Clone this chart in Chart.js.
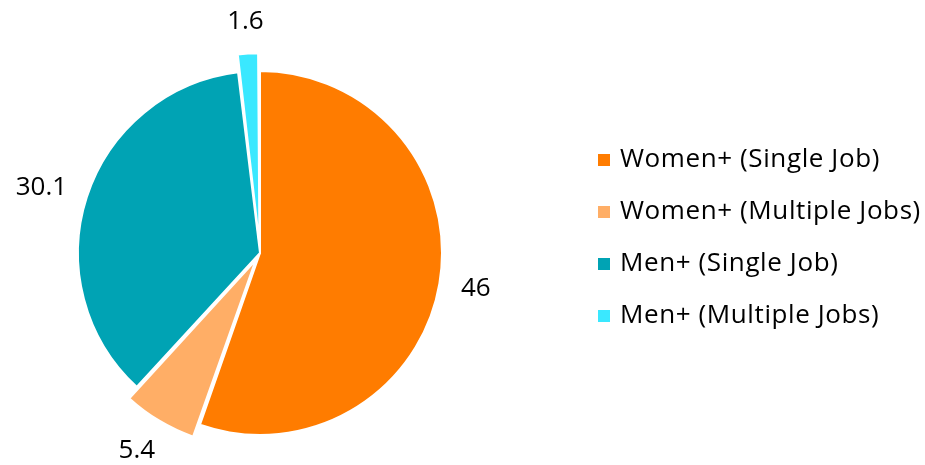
<!DOCTYPE html>
<html>
<head>
<meta charset="utf-8">
<script src="https://cdn.jsdelivr.net/npm/chart.js@4.4.0/dist/chart.umd.min.js"></script>
<style>
    html, body { margin: 0; padding: 0; background: #ffffff; }
    #wrap { width: 925px; height: 465px; }
</style>
</head>
<body>
<div id="wrap"><canvas id="jobsChart" width="925" height="465"></canvas></div>
<script>
var categories = [
    "Women+ (Single Job)",
    "Women+ (Multiple Jobs)",
    "Men+ (Single Job)",
    "Men+ (Multiple Jobs)"
];
var shares = [46, 5.4, 30.1, 1.6];
var sliceColors = ["#FF7C00", "#FFAE66", "#00A3B4", "#3AE8FF"];
// how far each slice is pulled out, in px
var explode = [0, 17, 0, 19];

var FONT = "'Open Sans', 'Liberation Sans', Arial, sans-serif";
var FONT_SIZE = 26;

// value labels outside each slice, pushed away along the slice middle
var outsideLabels = {
    id: "outsideLabels",
    afterDatasetsDraw: function (chart) {
        var ctx = chart.ctx;
        var meta = chart.getDatasetMeta(0);
        ctx.save();
        ctx.font = FONT_SIZE + "px " + FONT;
        ctx.fillStyle = "#000000";
        ctx.textAlign = "center";
        ctx.textBaseline = "middle";
        for (var i = 0; i < meta.data.length; i++) {
            var arc = meta.data[i];
            var mid = (arc.startAngle + arc.endAngle) / 2;
            var dx = Math.cos(mid);
            var dy = Math.sin(mid);
            var d = arc.outerRadius + explode[i] + 22;
            var txt = String(shares[i]);
            var w = ctx.measureText(txt).width;
            var h = FONT_SIZE * 0.7;
            var x = arc.x + dx * d + dx * w / 2;
            var y = arc.y + dy * d + dy * h / 2;
            ctx.fillText(txt, x, y);
        }
        ctx.restore();
    }
};

// legend on the right, square markers
var sideLegend = {
    id: "sideLegend",
    afterDraw: function (chart) {
        var ctx = chart.ctx;
        var x0 = 598;
        var y0 = 160;
        var step = 52;
        ctx.save();
        ctx.font = FONT_SIZE + "px " + FONT;
        ctx.letterSpacing = "0.6px";
        ctx.textAlign = "left";
        ctx.textBaseline = "middle";
        for (var i = 0; i < categories.length; i++) {
            var y = y0 + i * step;
            ctx.fillStyle = sliceColors[i];
            ctx.fillRect(x0, y - 6, 12, 12);
            ctx.fillStyle = "#000000";
            ctx.fillText(categories[i], x0 + 22, y);
        }
        ctx.restore();
    }
};

new Chart("jobsChart", {
    type: "pie",
    data: {
        labels: categories,
        datasets: [{
            data: shares,
            backgroundColor: sliceColors,
            borderColor: "#ffffff",
            borderWidth: 2,
            offset: explode.map(function (v) { return v * 2; })
        }]
    },
    options: {
        responsive: false,
        animation: false,
        radius: 182,
        layout: {
            padding: { left: 68, top: 61, bottom: 20, right: 473 }
        },
        plugins: {
            legend: { display: false },
            tooltip: { enabled: false }
        }
    },
    plugins: [outsideLabels, sideLegend]
});
</script>
</body>
</html>
